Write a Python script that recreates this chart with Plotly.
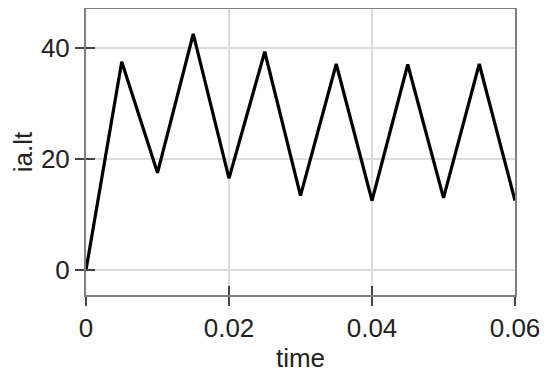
import plotly.graph_objects as go

# 数据
time = [0, 0.005, 0.01, 0.015, 0.02, 0.025, 0.03, 0.035, 0.04, 0.045, 0.05, 0.055, 0.06]
ia_lt = [0, 37.5, 17.5, 42.5, 16.5, 39.3, 13.4, 37.1, 12.5, 37.0, 13.0, 37.1, 12.5]

x_ticks = [0, 0.02, 0.04, 0.06]
x_labels = ["0", "0.02", "0.04", "0.06"]
y_ticks = [0, 20, 40]
y_labels = ["0", "20", "40"]

x_range = [0, 0.06]
y_range = [-4.5, 47]

font_main = dict(family="Liberation Sans, Arial, sans-serif", size=26, color="#222")

fig = go.Figure()
fig.add_trace(go.Scatter(x=time, y=ia_lt, mode="lines",
                         line=dict(color="black", width=3.2), showlegend=False))
# 第二组坐标轴, 只为画向内的刻度
fig.add_trace(go.Scatter(x=[None], y=[None], xaxis="x2", yaxis="y2",
                         showlegend=False, hoverinfo="skip"))

axis_common = dict(showline=True, linecolor="#808080", linewidth=2, mirror=True,
                   ticks="outside", ticklen=9, tickwidth=2, tickcolor="#444",
                   gridcolor="#dcdcdc", gridwidth=2, zeroline=False,
                   tickfont=font_main)

# 页面 body 有 8px 的边距, 所以宽高各减 8
fig.update_layout(
    width=542, height=368,
    margin=dict(l=78, r=35, t=1, b=81, autoexpand=False),
    plot_bgcolor="white", paper_bgcolor="white",
    xaxis=dict(range=x_range, tickvals=x_ticks, ticktext=x_labels,
               title=dict(text="time", font=font_main, standoff=7), **axis_common),
    yaxis=dict(range=y_range, tickvals=y_ticks, ticktext=y_labels,
               title=dict(text="ia.lt", font=font_main, standoff=11), **axis_common),
    xaxis2=dict(range=x_range, tickvals=x_ticks, overlaying="x", side="bottom",
                ticks="inside", ticklen=9, tickwidth=2, tickcolor="#444",
                showticklabels=False, showgrid=False, zeroline=False, showline=False),
    yaxis2=dict(range=y_range, tickvals=y_ticks, overlaying="y", side="left",
                ticks="inside", ticklen=9, tickwidth=2, tickcolor="#444",
                showticklabels=False, showgrid=False, zeroline=False, showline=False),
)

fig.write_html("out.html")
